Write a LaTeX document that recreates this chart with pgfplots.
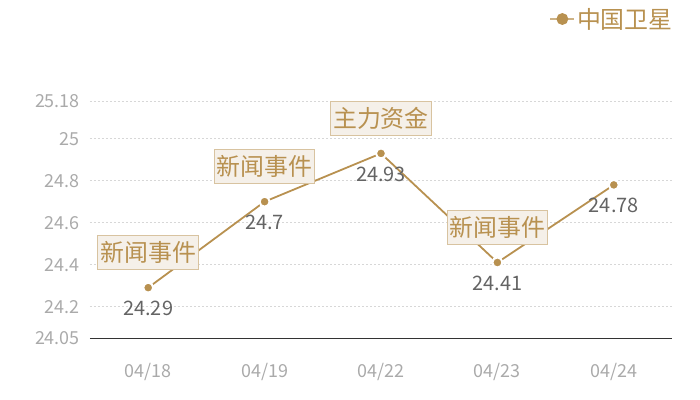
\documentclass[border=0pt]{standalone}
\usepackage{pgfplots}
\pgfplotsset{compat=1.18}
\usepackage{fontspec}
\setmainfont{Noto Sans CJK SC}
\definecolor{gold}{RGB}{184,145,80}
\definecolor{boxfill}{RGB}{245,240,233}
\definecolor{boxline}{RGB}{216,195,160}
\definecolor{ticktext}{RGB}{170,170,170}
\definecolor{labeltext}{RGB}{100,100,100}
\definecolor{gridc}{RGB}{215,215,215}
\begin{document}
\begin{tikzpicture}
\path[use as bounding box] (-90bp,-62bp) rectangle (610bp,338bp);
\begin{axis}[
    at={(0,0)}, anchor=south west,
    scale only axis, width=582bp, height=237bp,
    xmin=-0.5, xmax=4.5, ymin=24.05, ymax=25.18,
    xtick={0,1,2,3,4},
    xticklabels={04/18,04/19,04/22,04/23,04/24},
    ytick={24.05,24.2,24.4,24.6,24.8,25,25.18},
    yticklabels={24.05,24.2,24.4,24.6,24.8,25,25.18},
    /pgf/number format/assume math mode=true,
    axis x line*=bottom, axis y line*=left,
    x axis line style={draw=black!80, line width=0.8bp, -},
    y axis line style={draw=none},
    major tick length=0pt,
    ymajorgrids, grid style={gridc, dash pattern=on 2bp off 2bp, line width=0.6bp},
    xticklabel style={anchor=base, yshift=-39bp, inner sep=0pt, text=ticktext, font=\fontsize{18}{20}\selectfont},
    yticklabel style={anchor=base east, xshift=-10bp, yshift=-6.5bp, inner sep=0pt, text=ticktext, font=\fontsize{18}{20}\selectfont},
    clip=false,
    legend style={at={(axis description cs:1.005,1.346)}, anchor=east, draw=none, fill=none, inner sep=0pt,
        font=\fontsize{24}{26}\selectfont, text=gold},
    legend cell align=left,
  ]
  % line
  \addplot[gold, line width=1.8bp, mark=*, mark size=5bp,
      mark options={fill=gold, draw=white, line width=2bp},
      legend image code/.code={
        \draw[gold!70, line width=1.4bp] (0bp,0bp) -- (24bp,0bp);
        \fill[gold] (12bp,0bp) circle (5bp);
      }]
    coordinates {(0,24.29) (1,24.7) (2,24.93) (3,24.41) (4,24.78)};
  \addlegendentry{中国卫星}
  % value labels
  \addplot[draw=none, forget plot, nodes near coords, point meta=explicit symbolic,
      nodes near coords style={anchor=base, yshift=-28bp, inner sep=0pt, text=labeltext,
        font=\fontsize{20}{22}\selectfont}]
    coordinates {(0,24.29)[24.29] (1,24.7)[24.7] (2,24.93)[24.93] (3,24.41)[24.41] (4,24.78)[24.78]};
  % event boxes
  \addplot[draw=none, forget plot, nodes near coords, point meta=explicit symbolic,
      nodes near coords style={anchor=center, yshift=35bp, fill=boxfill, draw=boxline, line width=1bp,
        minimum height=34bp, inner xsep=2.5bp, inner ysep=0pt, text=gold,
        font=\fontsize{24}{26}\selectfont}]
    coordinates {(0,24.29)[新闻事件] (1,24.7)[新闻事件] (2,24.93)[主力资金] (3,24.41)[新闻事件]};
\end{axis}
\end{tikzpicture}
\end{document}
